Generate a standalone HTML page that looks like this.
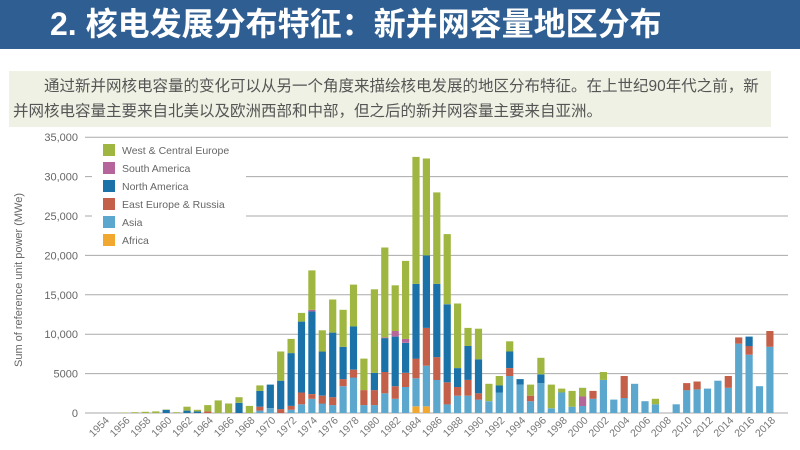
<!DOCTYPE html>
<html><head><meta charset="utf-8">
<style>
body{margin:0;width:800px;height:450px;overflow:hidden;background:#fff;font-family:"Liberation Sans","Noto Sans CJK SC",sans-serif;}
#title{position:absolute;left:0;top:0;width:800px;height:49px;background:#2f5f92;color:#fff;font-weight:bold;font-size:32px;line-height:49px;}
#title span{position:absolute;left:50px;top:0;font-family:"Liberation Sans","Noto Sans CJK SC",sans-serif;}
#box{position:absolute;left:9px;top:71px;width:762px;height:56px;background:#eef1e3;color:#555;font-size:15.5px;line-height:25px;font-family:"Liberation Sans","Noto Sans CJK SC",sans-serif;}
#box div{position:absolute;left:4px;top:3px;width:758px;}
svg{position:absolute;left:0;top:0;}
</style></head><body>
<div id="title"><span>2. 核电发展分布特征：新并网容量地区分布</span></div>
<div id="box"><div>&#12288;&#12288;通过新并网核电容量的变化可以从另一个角度来描绘核电发展的地区分布特征。在上世纪90年代之前，新并网核电容量主要来自北美以及欧洲西部和中部，但之后的新并网容量主要来自亚洲。</div></div>
<svg id="c" width="800" height="450" xmlns="http://www.w3.org/2000/svg" font-family="Liberation Sans, sans-serif"></svg>
<script>
var C={af:"#f0a830",as:"#5ba7cd",ea:"#c4604a",na:"#1a72a8",sa:"#b5659a",we:"#9fb640"};
var D={
1956:[0,0,0,0,0,.05],1957:[0,0,0,0,0,.1],1958:[0,0,0,0,0,.15],1959:[0,0,0,0,0,.2],1960:[0,0,0,.4,.4,.45],1961:[0,0,0,0,0,.1],
1962:[0,0,0,.3,.3,.8],1963:[0,0,0,.2,.2,.4],1964:[0,0,.2,.2,.2,1.0],1965:[0,0,0,0,0,1.6],1966:[0,0,0,0,0,1.2],
1967:[0,0,0,1.3,1.3,2.0],1968:[0,0,0,0,0,.9],1969:[0,.3,.8,2.8,2.8,3.5],1970:[0,.6,.6,3.6,3.6,3.6],
1971:[0,0,.5,4.1,4.1,7.8],1972:[0,.4,.9,7.6,7.6,9.4],1973:[0,1.1,2.6,11.6,11.6,12.7],1974:[0,1.8,2.4,12.9,13.1,18.1],
1975:[0,1.2,2.2,7.8,7.8,10.5],1976:[0,1.0,2.0,10.2,10.2,14.4],1977:[0,3.4,4.3,8.4,8.4,13.1],1978:[0,4.5,5.5,11.0,11.0,16.3],
1979:[0,1.0,2.9,2.9,2.9,6.9],1980:[0,1.0,2.9,5.1,5.1,15.7],1981:[0,2.5,5.2,9.5,9.6,21.0],1982:[0,1.8,3.4,9.7,10.4,16.2],
1983:[0,3.3,5.1,8.9,9.4,19.3],1984:[.85,4.4,6.9,16.4,16.4,32.5],1985:[.85,6.0,10.8,20.0,20.0,32.3],1986:[0,4.2,7.1,16.4,16.4,28.0],
1987:[0,1.1,3.9,13.8,13.8,22.7],1988:[0,2.2,3.3,5.7,5.7,13.9],1989:[0,2.2,4.2,8.5,8.5,10.8],1990:[0,1.7,2.5,6.8,6.8,10.7],
1991:[0,1.5,1.5,1.5,1.5,3.7],1992:[0,2.6,2.6,3.5,3.5,4.7],1993:[0,4.7,5.7,7.8,7.8,9.1],1994:[0,3.6,3.6,4.3,4.3,4.3],
1995:[0,1.5,2.2,2.2,2.2,3.6],1996:[0,3.8,3.8,4.9,4.9,7.0],1997:[0,.6,.6,.6,.6,3.6],1998:[0,2.6,2.6,2.6,2.6,3.1],
1999:[0,.8,.8,.8,.8,2.8],2000:[0,.9,.9,.9,2.1,3.2],2001:[0,1.8,2.8,2.8,2.8,2.8],2002:[0,4.2,4.2,4.2,4.2,5.2],
2003:[0,1.7,1.7,1.7,1.7,1.7],2004:[0,1.9,4.7,4.7,4.7,4.7],2005:[0,3.7,3.7,3.7,3.7,3.7],2006:[0,1.5,1.5,1.5,1.5,1.5],
2007:[0,1.1,1.1,1.1,1.1,1.8],2009:[0,1.1,1.1,1.1,1.1,1.1],2010:[0,2.9,3.8,3.8,3.8,3.8],2011:[0,3.0,4.0,4.0,4.0,4.0],
2012:[0,3.1,3.1,3.1,3.1,3.1],2013:[0,4.1,4.1,4.1,4.1,4.1],2014:[0,3.2,4.7,4.7,4.7,4.7],2015:[0,8.8,9.6,9.6,9.6,9.6],
2016:[0,7.4,8.5,9.7,9.7,9.7],2017:[0,3.4,3.4,3.4,3.4,3.4],2018:[0,8.4,10.4,10.4,10.4,10.4]};
var keys=["af","as","ea","na","sa","we"];
var s='';
var Y0=413,K=7.88;
function y(v){return Y0-v*K;}
for(var i=0;i<=7;i++){var gy=y(i*5).toFixed(1);
 if(i==5||i==6){s+='<line x1="85" x2="92" y1="'+gy+'" y2="'+gy+'" stroke="#aaa"/><line x1="246" x2="788" y1="'+gy+'" y2="'+gy+'" stroke="#aaa"/>';}
 else s+='<line x1="85" x2="788" y1="'+gy+'" y2="'+gy+'" stroke="#aaa"/>';
 var lab=i==0?'0':(i==1?'5000':(i*5)+',000');
 s+='<text x="78" y="'+(+gy+4)+'" font-size="11" fill="#666" text-anchor="end">'+lab+'</text>';}
for(var yr=1954;yr<=2018;yr++){var xc=416+(yr-1984)*10.41;var d=D[yr];
 if(d){var prev=0;for(var k=0;k<6;k++){var t=d[k];if(t>prev){s+='<rect x="'+(xc-3.6).toFixed(1)+'" y="'+y(t).toFixed(1)+'" width="7.2" height="'+((t-prev)*K).toFixed(1)+'" fill="'+C[keys[k]]+'"/>';prev=t;}}}
 if(yr%2==0){s+='<text transform="translate('+(xc+6).toFixed(1)+',421) rotate(-45)" font-size="10.5" fill="#777" text-anchor="end">'+yr+'</text>';}}
var L=[["West & Central Europe","we"],["South America","sa"],["North America","na"],["East Europe & Russia","ea"],["Asia","as"],["Africa","af"]];
for(var i=0;i<6;i++){var ly=144+i*18;s+='<rect x="103" y="'+ly+'" width="12" height="12" fill="'+C[L[i][1]]+'"/><text x="122" y="'+(ly+10)+'" font-size="10.5" fill="#666">'+L[i][0].replace('&','&amp;')+'</text>';}
s+='<text transform="translate(22,280) rotate(-90)" font-size="11" fill="#666" text-anchor="middle">Sum of reference unit power (MWe)</text>';
document.getElementById('c').innerHTML=s;
</script>
</body></html>
